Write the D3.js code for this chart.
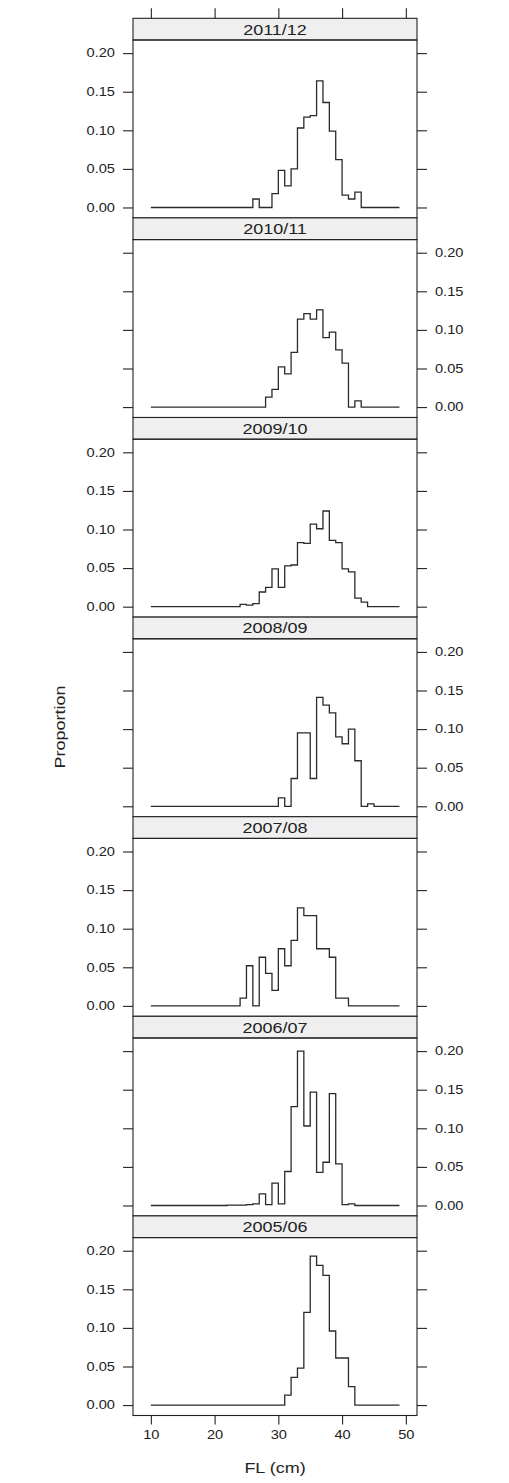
<!DOCTYPE html>
<html>
<head>
<meta charset="utf-8">
<script src="https://cdn.jsdelivr.net/npm/d3@7"></script>
<style>
  body { margin: 0; background: #fff; }
  svg text { font-family: "Liberation Sans", Arial, sans-serif; fill: #222; }
  .stretch { transform-box: fill-box; transform-origin: 50% 50%; transform: scaleX(1.2); }
  .yl text { transform-box: fill-box; transform-origin: 100% 50%; transform: scaleX(1.22); }
  .yr text { transform-box: fill-box; transform-origin: 0% 50%; transform: scaleX(1.22); }
  .xb text { transform-box: fill-box; transform-origin: 50% 50%; transform: scaleX(1.22); }
</style>
</head>
<body>
<div id="chart"></div>
<script>

// fork length classes (cm)
var lengths = [10,11,12,13,14,15,16,17,18,19,20,21,22,23,24,25,26,27,28,29,
               30,31,32,33,34,35,36,37,38,39,40,41,42,43,44,45,46,47,48,49];

// panel labels, top to bottom
var seasons = ["2011/12","2010/11","2009/10","2008/09","2007/08","2006/07","2005/06"];

// proportion at length, one array per season
var p2011 = [0,0,0,0,0,0,0,0,0,0, 0,0,0,0,0,0,0.011,0,0,0.018,
             0.048,0.028,0.050,0.103,0.117,0.119,0.164,0.136,0.099,0.062,
             0.016,0.011,0.020,0,0,0,0,0,0,0];
var p2010 = [0,0,0,0,0,0,0,0,0,0, 0,0,0,0,0,0,0,0,0.013,0.023,
             0.052,0.043,0.071,0.114,0.121,0.114,0.126,0.090,0.097,0.074,
             0.057,0,0.008,0,0,0,0,0,0,0];
var p2009 = [0,0,0,0,0,0,0,0,0,0, 0,0,0,0,0.003,0.002,0.004,0.019,0.025,0.049,
             0.025,0.053,0.054,0.083,0.082,0.107,0.101,0.124,0.086,0.083,
             0.049,0.045,0.011,0.006,0,0,0,0,0,0];
var p2008 = [0,0,0,0,0,0,0,0,0,0, 0,0,0,0,0,0,0,0,0,0,
             0.011,0,0.036,0.095,0.095,0.036,0.141,0.131,0.121,0.090,
             0.081,0.100,0.059,0,0.003,0,0,0,0,0];
var p2007 = [0,0,0,0,0,0,0,0,0,0, 0,0,0,0,0.010,0.052,0,0.063,0.042,0.020,
             0.074,0.052,0.085,0.127,0.117,0.117,0.074,0.074,0.063,0.010,
             0.010,0,0,0,0,0,0,0,0,0];
var p2006 = [0,0,0,0,0,0,0,0,0,0, 0,0,0.0005,0.0005,0.0005,0.001,0.002,0.015,0.001,0.029,
             0.002,0.044,0.128,0.200,0.103,0.147,0.043,0.056,0.145,0.054,
             0.001,0.002,0,0,0,0,0,0,0,0];
var p2005 = [0,0,0,0,0,0,0,0,0,0, 0,0,0,0,0,0,0,0,0,0,
             0,0.013,0.036,0.048,0.120,0.193,0.181,0.168,0.096,0.061,
             0.061,0.024,0,0,0,0,0,0,0,0];

var series = [p2011, p2010, p2009, p2008, p2007, p2006, p2005];

var xTicks = [10,20,30,40,50];
var yTicks = [0,0.05,0.10,0.15,0.20];

var width = 509, height = 1483;
var panelLeft = 133, panelRight = 417, panelTop = 18.3,
    pitch = 199.6, stripH = 21.7, bodyH = 177.9;

var svg = d3.select("#chart")
  .append("svg")
    .attr("width", width)
    .attr("height", height);

var x = d3.scaleLinear()
  .domain([7.2, 51.75])
  .range([panelLeft, panelRight]);

var y = d3.scaleLinear()
  .domain([-0.0135, 0.217])
  .range([bodyH, 0]);

var line = d3.line()
  .x(function(d) { return x(d.len); })
  .y(function(d) { return y(d.p); })
  .curve(d3.curveStepAfter);

seasons.forEach(function(s, i) {
  var g = svg.append("g")
    .attr("transform", "translate(0," + (panelTop + i * pitch) + ")");

  // strip
  g.append("rect")
    .attr("x", panelLeft).attr("y", 0)
    .attr("width", panelRight - panelLeft).attr("height", stripH)
    .attr("fill", "#efefef")
    .attr("stroke", "#222")
    .attr("stroke-width", 1.1);

  g.append("text")
    .attr("class", "stretch")
    .attr("x", (panelLeft + panelRight) / 2)
    .attr("y", stripH / 2 + 5.4)
    .attr("text-anchor", "middle")
    .style("font-size", "15px")
    .text(s);

  var body = g.append("g")
    .attr("transform", "translate(0," + stripH + ")");

  body.append("rect")
    .attr("x", panelLeft).attr("y", 0)
    .attr("width", panelRight - panelLeft).attr("height", bodyH)
    .attr("fill", "none")
    .attr("stroke", "#222")
    .attr("stroke-width", 1.1);

  var labelLeft = (i % 2 == 0);

  var yl = body.append("g")
    .attr("class", "yl")
    .attr("transform", "translate(" + panelLeft + ",0)")
    .call(d3.axisLeft(y).tickValues(yTicks).tickSize(10).tickPadding(8)
      .tickFormat(labelLeft ? d3.format(".2f") : function() { return ""; }));

  var yr = body.append("g")
    .attr("class", "yr")
    .attr("transform", "translate(" + panelRight + ",0)")
    .call(d3.axisRight(y).tickValues(yTicks).tickSize(10).tickPadding(8)
      .tickFormat(!labelLeft ? d3.format(".2f") : function() { return ""; }));

  [yl, yr].forEach(function(a) {
    a.select(".domain").remove();
    a.selectAll("line").attr("stroke", "#222").attr("stroke-width", 1.1);
    a.selectAll("text").style("font-size", "12px").attr("fill", "#222")
      .style("font-family", "'Liberation Sans', Arial, sans-serif");
  });

  var pts = lengths.map(function(l, j) { return {len: l, p: series[i][j]}; });

  body.append("path")
    .datum(pts)
    .attr("fill", "none")
    .attr("stroke", "#2a2a2a")
    .attr("stroke-width", 1.3)
    .attr("d", line);

  if (i == 0) {
    var xt = g.append("g")
      .call(d3.axisTop(x).tickValues(xTicks).tickSize(10)
        .tickFormat(function() { return ""; }));
    xt.select(".domain").remove();
    xt.selectAll("line").attr("stroke", "#222").attr("stroke-width", 1.1);
  }

  if (i == seasons.length - 1) {
    var xb = body.append("g")
      .attr("class", "xb")
      .attr("transform", "translate(0," + bodyH + ")")
      .call(d3.axisBottom(x).tickValues(xTicks).tickSize(9).tickPadding(6));
    xb.select(".domain").remove();
    xb.selectAll("line").attr("stroke", "#222").attr("stroke-width", 1.1);
    xb.selectAll("text").style("font-size", "12px").attr("fill", "#222")
      .style("font-family", "'Liberation Sans', Arial, sans-serif");
  }
});

// axis titles
svg.append("text")
  .attr("transform", "translate(" + ((panelLeft + panelRight) / 2) + ",1473) scale(1.2,1)")
  .attr("text-anchor", "middle")
  .style("font-size", "15px")
  .text("FL (cm)");

svg.append("text")
  .attr("transform", "translate(65,727) rotate(-90) scale(1.2,1)")
  .attr("text-anchor", "middle")
  .style("font-size", "15px")
  .text("Proportion");

</script>
</body>
</html>
